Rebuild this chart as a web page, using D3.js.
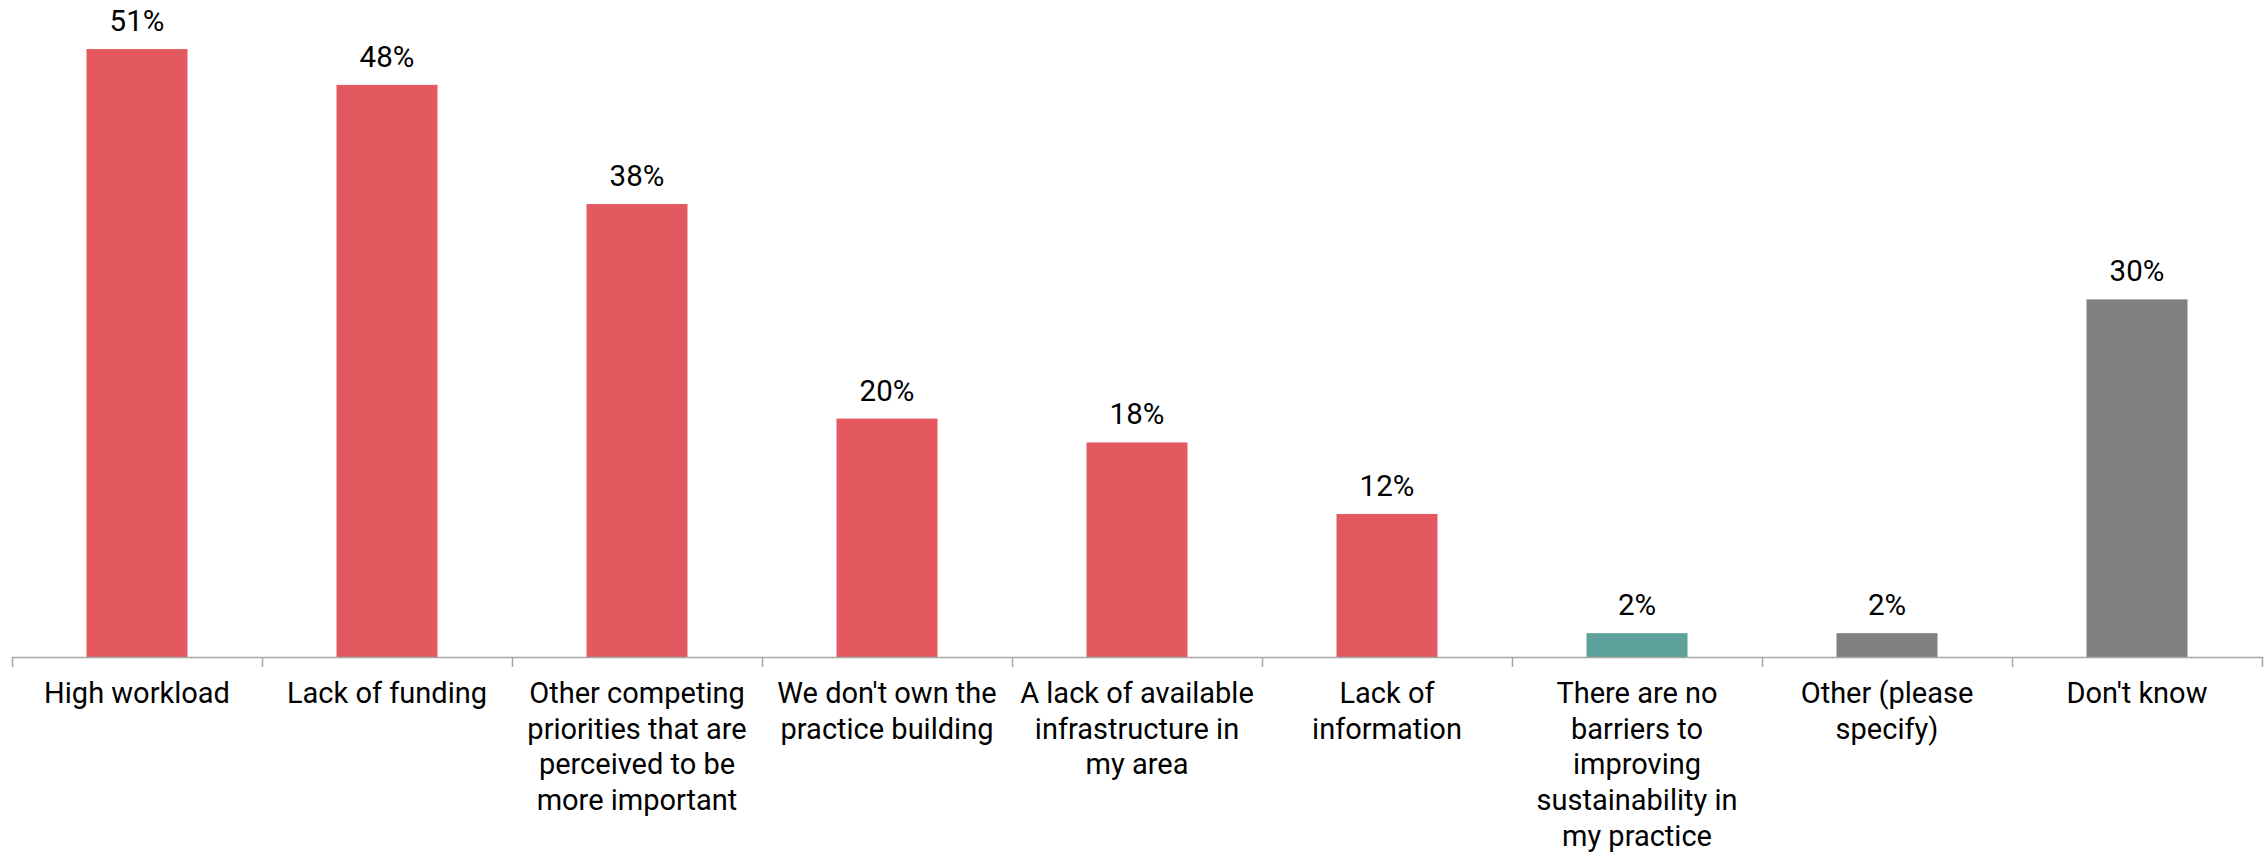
<!DOCTYPE html>
<html>
<head>
<meta charset="utf-8">
<script src="https://cdn.jsdelivr.net/npm/d3@7"></script>
<style>
  html, body { margin: 0; padding: 0; background: #fff; }
  svg { display: block; font-family: Roboto, "Noto Sans", sans-serif; }
</style>
</head>
<body>
<svg id="chart" width="2265" height="852"></svg>
<script>
// ---- data ----
const categories = [
  "High workload",
  "Lack of funding",
  "Other competing priorities that are perceived to be more important",
  "We don't own the practice building",
  "A lack of available infrastructure in my area",
  "Lack of information",
  "There are no barriers to improving sustainability in my practice",
  "Other (please specify)",
  "Don't know"
];
const labelLines = [
  ["High workload"],
  ["Lack of funding"],
  ["Other competing", "priorities that are", "perceived to be", "more important"],
  ["We don't own the", "practice building"],
  ["A lack of available", "infrastructure in", "my area"],
  ["Lack of", "information"],
  ["There are no", "barriers to", "improving", "sustainability in", "my practice"],
  ["Other (please", "specify)"],
  ["Don't know"]
];
const values = [51, 48, 38, 20, 18, 12, 2, 2, 30];
const groups = ["barrier", "barrier", "barrier", "barrier", "barrier", "barrier", "none", "other", "other"];
const groupColors = { barrier: "#E3595F", none: "#5EA19A", other: "#808080" };

// ---- layout ----
const svg = d3.select("#chart");
const left = 12, right = 2262, baseY = 657;
const pxPerUnit = 11.92;

const x = d3.scaleBand()
  .domain(categories)
  .range([left, right])
  .paddingInner(0.596)
  .paddingOuter(0.298);

const y = d3.scaleLinear()
  .domain([0, 55])
  .range([baseY, baseY - 55 * pxPerUnit]);

const step = x.step();

// bars
svg.append("g").selectAll("rect")
  .data(categories)
  .join("rect")
  .attr("x", d => x(d))
  .attr("width", x.bandwidth())
  .attr("y", (d, i) => y(values[i]))
  .attr("height", (d, i) => y(0) - y(values[i]))
  .attr("fill", (d, i) => groupColors[groups[i]]);

// value labels
svg.append("g").selectAll("text")
  .data(categories)
  .join("text")
  .attr("x", d => x(d) + x.bandwidth() / 2)
  .attr("y", (d, i) => y(values[i]) - 18)
  .attr("text-anchor", "middle")
  .attr("font-size", 29.5)
  .attr("fill", "#000")
  .text((d, i) => values[i] + "%");

// axis line and ticks at category boundaries
const axisG = svg.append("g");
axisG.append("line")
  .attr("x1", left).attr("x2", right)
  .attr("y1", baseY + 0.5).attr("y2", baseY + 0.5)
  .attr("stroke", "#A6A6A6").attr("stroke-width", 1.5);
const boundaries = d3.range(categories.length + 1).map(i => left + i * step);
axisG.selectAll("line.tick")
  .data(boundaries)
  .join("line")
  .attr("class", "tick")
  .attr("x1", d => Math.round(d) + 0.5).attr("x2", d => Math.round(d) + 0.5)
  .attr("y1", baseY).attr("y2", baseY + 10)
  .attr("stroke", "#A6A6A6").attr("stroke-width", 1.5);

// category labels
const lab = svg.append("g").selectAll("text")
  .data(categories)
  .join("text")
  .attr("text-anchor", "middle")
  .attr("font-size", 29)
  .attr("fill", "#000");
lab.each(function(d, i) {
  const t = d3.select(this);
  labelLines[i].forEach((line, j) => {
    t.append("tspan")
      .attr("x", x(d) + x.bandwidth() / 2)
      .attr("y", baseY + 46 + j * 35.7)
      .text(line);
  });
});
</script>
</body>
</html>
